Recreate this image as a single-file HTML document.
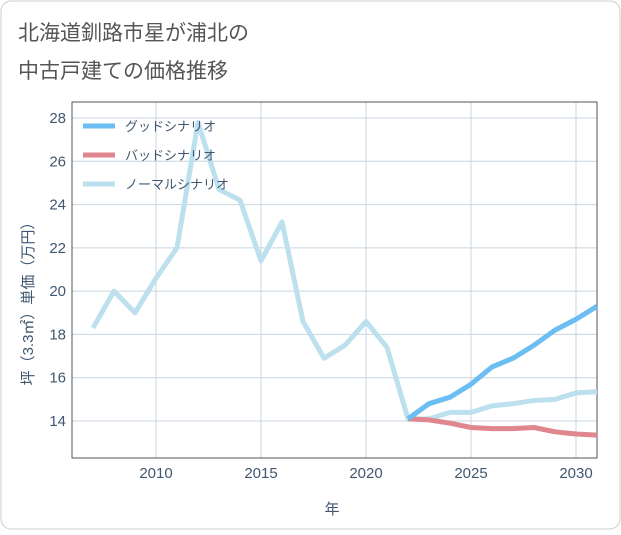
<!DOCTYPE html>
<html><head><meta charset="utf-8"><style>
body{margin:0;background:#fff;}
.wrap{position:relative;width:621px;height:530px;}
text{font-family:"Liberation Sans","Noto Sans CJK JP",sans-serif;}
</style></head><body>
<div class="wrap">
<svg id="svg" width="621" height="530" xmlns="http://www.w3.org/2000/svg">
<rect x="1" y="1" width="619" height="528" rx="10" fill="#fff" stroke="#ccc"/>
<text x="18" y="40" font-size="21" fill="#555">北海道釧路市星が浦北の</text>
<text x="18" y="78" font-size="21" fill="#555">中古戸建ての価格推移</text>
<g id="plot"></g>
<text x="332" y="514" font-size="15" fill="#3f5770" text-anchor="middle">年</text>
<text transform="translate(33,300) rotate(-90)" font-size="15" fill="#3f5770" text-anchor="middle">坪（3.3㎡）単価（万円）</text>
</svg>
</div>
<script>
const years=[2007,2008,2009,2010,2011,2012,2013,2014,2015,2016,2017,2018,2019,2020,2021,2022,2023,2024,2025,2026,2027,2028,2029,2030,2031];
const normalVals=[18.3,20.0,19.0,20.6,22.0,27.8,24.7,24.2,21.4,23.2,18.6,16.9,17.5,18.6,17.4,14.1,14.1,14.4,14.4,14.7,14.8,14.95,15.0,15.3,15.35];
const forecastYears=[2022,2023,2024,2025,2026,2027,2028,2029,2030,2031];
const goodVals=[14.1,14.8,15.1,15.7,16.5,16.9,17.5,18.2,18.7,19.3];
const badVals=[14.1,14.05,13.9,13.7,13.65,13.65,13.7,13.5,13.4,13.35];
const xTicks=[2010,2015,2020,2025,2030];
const yTicks=[14,16,18,20,22,24,26,28];
const L=72,R=597,T=102,B=458;
const xs=y=>156+(y-2010)*21;
const ys=v=>421-(v-14)*(303/14);
const NS="http://www.w3.org/2000/svg";
const g=document.getElementById('plot');
function mk(t,a){const e=document.createElementNS(NS,t);for(const k in a)e.setAttribute(k,a[k]);g.appendChild(e);return e;}
xTicks.forEach(t=>{const l=mk('line',{x1:xs(t),x2:xs(t),y1:T,y2:B,stroke:'#c8d4e0','stroke-width':1});


const tx=mk('text',{x:xs(t),y:B+20,'font-size':15,fill:'#3f5770','text-anchor':'middle'});tx.textContent=t;

});
yTicks.forEach(t=>{const l=mk('line',{x1:L,x2:R,y1:ys(t),y2:ys(t),stroke:'#c8d4e0','stroke-width':1});


const tx=mk('text',{x:L-6,y:ys(t)+5,'font-size':15,fill:'#3f5770','text-anchor':'end'});tx.textContent=t;

});
const fr=mk('rect',{x:L,y:T,width:R-L,height:B-T,fill:'none',stroke:'#555','stroke-width':1});


const cp=document.createElementNS(NS,'clipPath');cp.setAttribute('id','cp');
const cr=document.createElementNS(NS,'rect');cr.setAttribute('x',L);cr.setAttribute('y',T);cr.setAttribute('width',R-L);cr.setAttribute('height',B-T);cp.appendChild(cr);g.appendChild(cp);
function line(xv,yv,col,name){const p=mk('polyline',{points:xv.map((x,i)=>xs(x)+','+ys(yv[i])).join(' '),fill:'none',stroke:col,'stroke-width':5,'stroke-linejoin':'round','clip-path':'url(#cp)'});

}
line(years,normalVals,'#bde0ee','normal-scenario-line');
line(forecastYears,badVals,'#e0868f','bad-scenario-line');
line(forecastYears,goodVals,'#6bbdf2','good-scenario-line');
const leg=[['グッドシナリオ','#6bbdf2','legend-good'],['バッドシナリオ','#e0868f','legend-bad'],['ノーマルシナリオ','#bde0ee','legend-normal']];
leg.forEach((d,i)=>{const y=126+i*29;
const l=mk('line',{x1:83,x2:115,y1:y,y2:y,stroke:d[1],'stroke-width':5});


const t=mk('text',{x:125,y:y+5,'font-size':13,fill:'#3f5770'});t.textContent=d[0];

});
</script>
</body></html>
